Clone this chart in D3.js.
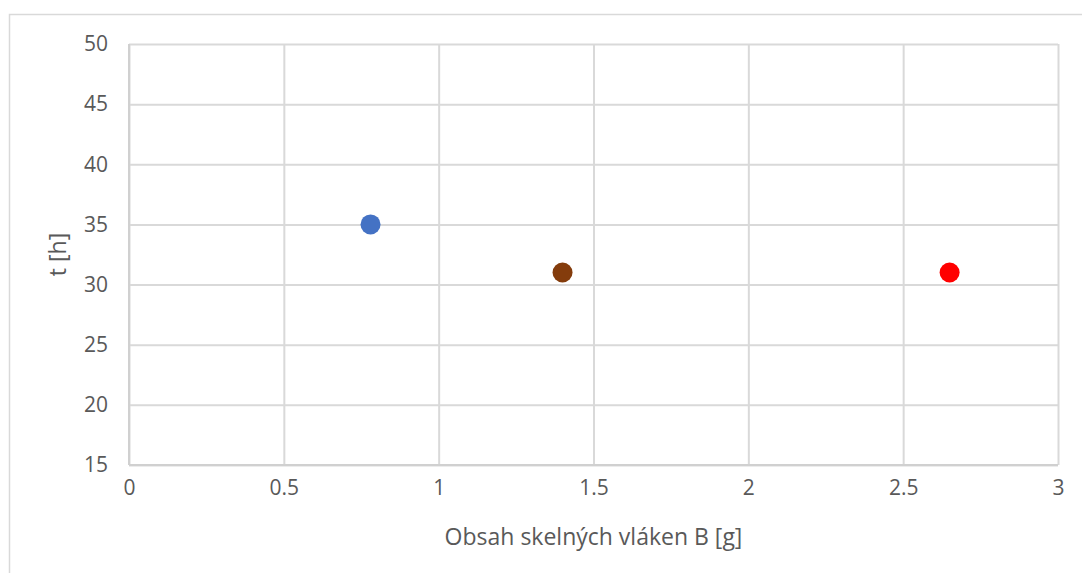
<!DOCTYPE html>
<html><head><meta charset="utf-8">
<script src="https://cdn.jsdelivr.net/npm/d3@7"></script>
<style>
html,body{margin:0;padding:0;background:#fff;}
svg{display:block;}
text{font-family:"Open Sans",sans-serif;fill:#595959;}
</style></head>
<body>
<svg id="c" width="1082" height="573"></svg>
<script>
const xValues = [0.78, 1.4, 2.65];
const yValues = [35, 31, 31];
const pointColors = ["#4472C4", "#843C0C", "#FF0000"];
const xTicks = [0, 0.5, 1, 1.5, 2, 2.5, 3];
const yTicks = [15, 20, 25, 30, 35, 40, 45, 50];
const xTitle = "Obsah skelných vláken B [g]";
const yTitle = "t [h]";

const svg = d3.select("#c");
const L = 129, R = 1058, T = 44, B = 465;
const x = d3.scaleLinear().domain([0, 3]).range([L, R]);
const y = d3.scaleLinear().domain([15, 50]).range([B, T]);

svg.append("rect").attr("x", 9.5).attr("y", 14.5).attr("width", 1100).attr("height", 600)
  .attr("fill", "#fff").attr("stroke", "#d9d9d9").attr("stroke-width", 1.5);

const gx = svg.append("g").attr("transform", `translate(0,${B})`)
  .call(d3.axisBottom(x).tickValues(xTicks).tickSize(-(B - T)).tickFormat(d => String(d)).tickPadding(23));
const gy = svg.append("g").attr("transform", `translate(${L},0)`)
  .call(d3.axisLeft(y).tickValues(yTicks).tickSize(-(R - L)).tickFormat(d => String(d)).tickPadding(21));
[gx, gy].forEach(g => {
  g.select(".domain").remove();
  g.selectAll(".tick line").attr("stroke", "#d9d9d9").attr("stroke-width", 2);
  g.selectAll(".tick text").attr("font-size", 21).attr("fill", "#595959").attr("font-family", "Open Sans");
});
gx.selectAll(".tick text").attr("dy", "0.35em");
svg.append("line").attr("x1", L).attr("x2", R).attr("y1", B).attr("y2", B).attr("stroke", "#d0d0d0").attr("stroke-width", 2);
svg.append("line").attr("x1", L).attr("x2", L).attr("y1", T).attr("y2", B).attr("stroke", "#d0d0d0").attr("stroke-width", 2);

svg.append("g").selectAll("circle").data(xValues).join("circle")
  .attr("cx", d => x(d)).attr("cy", (d, i) => y(yValues[i])).attr("r", 10)
  .attr("fill", (d, i) => pointColors[i]);

svg.append("text").attr("x", (L + R) / 2).attr("y", 545).attr("text-anchor", "middle")
  .attr("font-size", 23).text(xTitle);
svg.append("text").attr("transform", `translate(66,${(T + B) / 2}) rotate(-90)`).attr("text-anchor", "middle")
  .attr("font-size", 23).text(yTitle);
</script>
</body></html>
